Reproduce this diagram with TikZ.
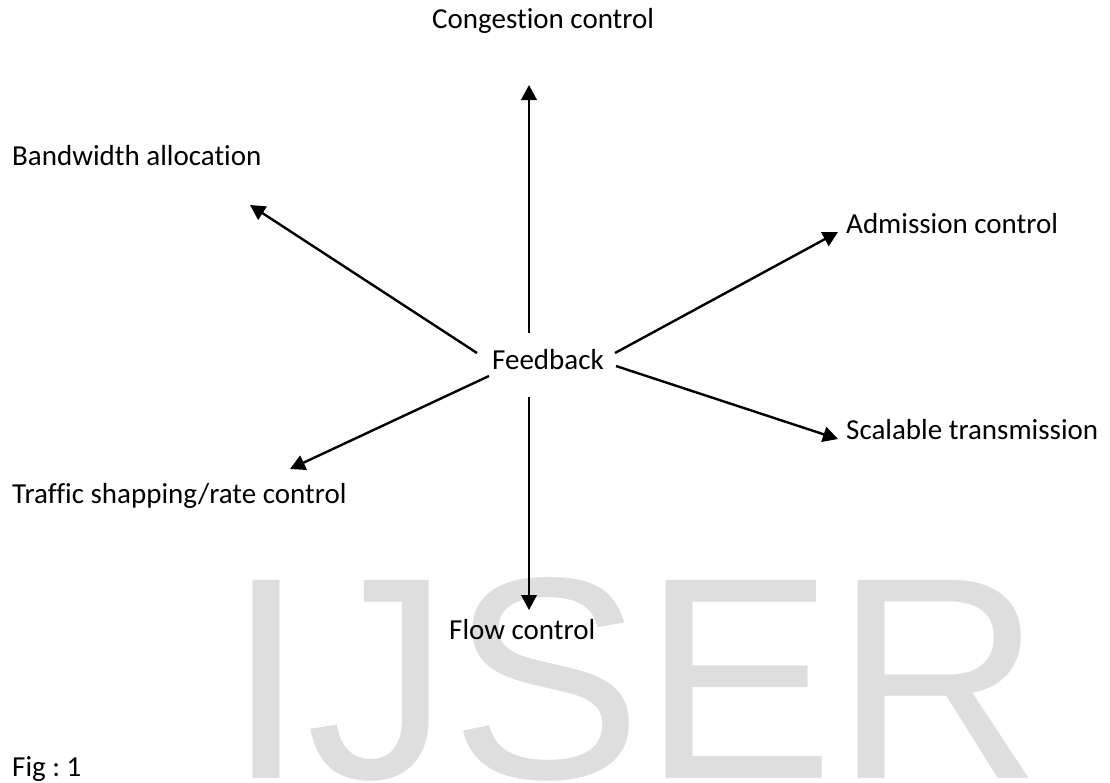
\documentclass[tikz,border=0pt]{standalone}
\usepackage{fontspec}
\setmainfont[RawFeature={-liga}]{Carlito}
\newfontfamily\wmfamily{Liberation Sans}
\usetikzlibrary{arrows.meta,calc}
\definecolor{wmgray}{RGB}{222,222,222}
\frenchspacing
\tikzset{
  lbl/.style={anchor=base west, inner sep=0pt, font=\fontsize{29}{33}\selectfont},
  arr/.style={line width=2.4pt, -{Triangle[width=15.5pt,length=15pt]}},
  wm/.style={anchor=base west, inner sep=0pt, text=wmgray, font=\wmfamily\fontsize{288}{288}\selectfont}
}
\begin{document}
\begin{tikzpicture}[x=1pt,y=-1pt]
\fill[white] (0,0) rectangle (1110,782);
\useasboundingbox (0,0) rectangle (1110,782);
% watermark
\node[wm] (wmark) at (226,778) {IJSER};
% labels
\node[lbl] (fb) at (492,369) {Feedback};
\node[lbl] (cong) at (432,28) {Congestion control};
\node[lbl] (bw) at (12,165) {Bandwidth allocation};
\node[lbl] (adm) at (846,233) {Admission control};
\node[lbl] (sc) at (846,439) {Scalable transmission};
\node[lbl] (tr) at (12,503) {Traffic shapping/rate control};
\node[lbl] (flow) at (449,639) {Flow control};
\node[lbl] (fig) at (12,776) {Fig : 1};
% connectors
\draw[arr] ($(fb.base west)+(37,-36)$) -- ($(cong.base west)+(97,57)$);
\draw[arr] ($(fb.base west)+(37,28)$) -- ($(flow.base west)+(80,-29)$);
\draw[arr] ($(fb.base west)+(-15,-16)$) -- ($(bw.base west)+(238,40)$);
\draw[arr] ($(fb.base west)+(123,-16)$) -- ($(adm.base west)+(-8,-1)$);
\draw[arr] ($(fb.base west)+(124,-3)$) -- ($(sc.base west)+(-8,0)$);
\draw[arr] ($(fb.base west)+(-3,7)$) -- ($(tr.base west)+(278,-34)$);
\end{tikzpicture}
\end{document}
